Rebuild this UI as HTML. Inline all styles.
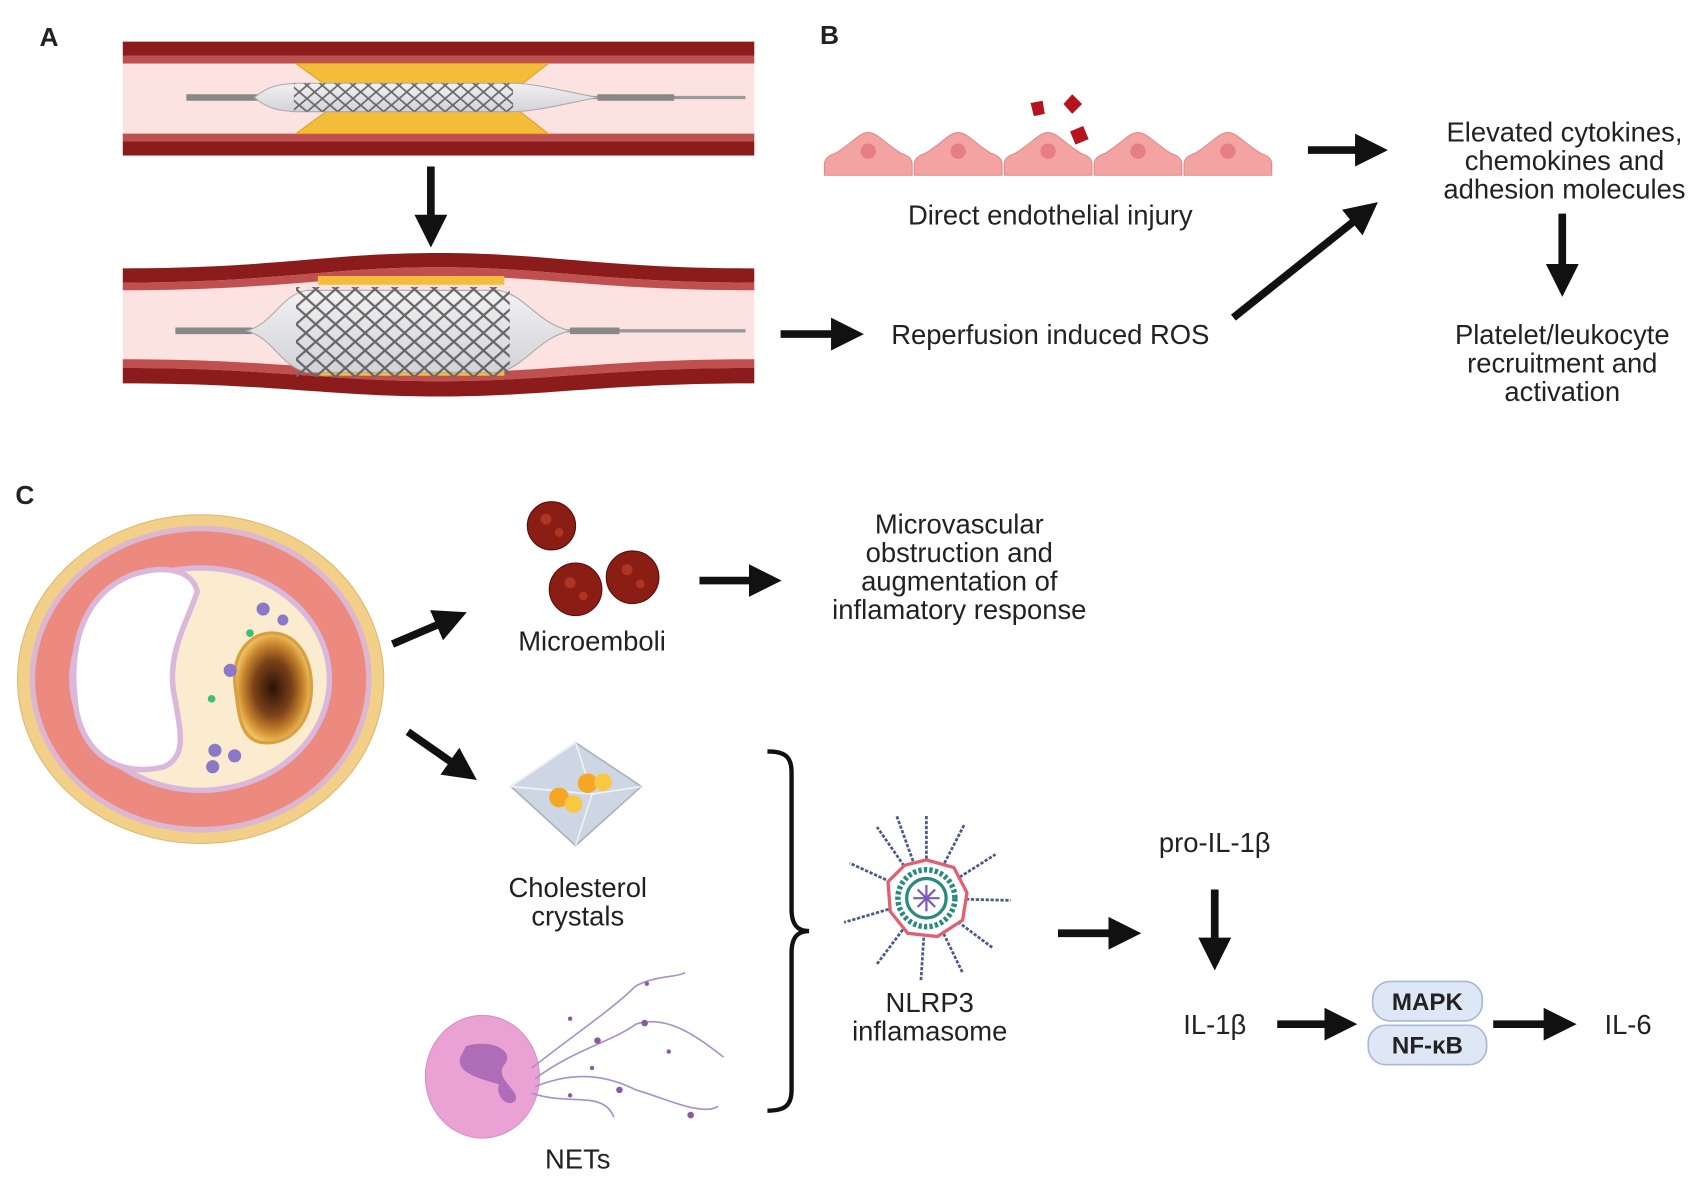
<!DOCTYPE html>
<html><head><meta charset="utf-8"><style>
html,body{margin:0;padding:0;background:#fff;}
svg{display:block;}
text{font-family:"Liberation Sans",sans-serif;fill:#222;}
</style></head><body>
<svg width="1707" height="1183" viewBox="0 0 1557 1080" preserveAspectRatio="none" xmlns="http://www.w3.org/2000/svg">
<defs>
<marker id="ah" markerUnits="userSpaceOnUse" markerWidth="30" markerHeight="30" refX="2" refY="15" orient="auto">
<path d="M0,0 L30,15 L0,30 Z" fill="#111"/>
</marker>
<pattern id="mesh" width="14" height="12" patternUnits="userSpaceOnUse">
<path d="M0,6 L7,0 L14,6 L7,12 Z" fill="none" stroke="#666" stroke-width="1.6"/>
</pattern>
<pattern id="mesh2" width="18" height="16" patternUnits="userSpaceOnUse">
<path d="M0,8 L9,0 L18,8 L9,16 Z" fill="none" stroke="#666" stroke-width="2"/>
</pattern>
<linearGradient id="bal" x1="0" y1="0" x2="0" y2="1"><stop offset="0" stop-color="#f2f2f4"/><stop offset="0.5" stop-color="#e2e2e6"/><stop offset="1" stop-color="#d2d2d8"/></linearGradient>
<radialGradient id="core" cx="0.5" cy="0.5" r="0.5"><stop offset="0" stop-color="#2a1208"/><stop offset="0.5" stop-color="#7a4218"/><stop offset="0.8" stop-color="#c9862e"/><stop offset="1" stop-color="#f0c060"/></radialGradient>
</defs>

<text x="36" y="42" font-size="24" font-weight="bold" fill="#111">A</text>
<text x="748" y="40" font-size="24" font-weight="bold" fill="#111">B</text>
<text x="14" y="460" font-size="24" font-weight="bold" fill="#111">C</text>

<rect x="112" y="38" width="576" height="104" fill="#fde2e2"/>
<rect x="112" y="38" width="576" height="13" fill="#8c1c1c"/>
<rect x="112" y="51" width="576" height="7" fill="#c05050"/>
<rect x="112" y="122" width="576" height="7" fill="#c05050"/>
<rect x="112" y="129" width="576" height="13" fill="#8c1c1c"/>
<path d="M270,58 L500,58 L472,80 L300,80 Z" fill="#f3bd3a" stroke="#e0a020"/>
<path d="M300,100 L472,100 L500,122 L270,122 Z" fill="#f3bd3a" stroke="#e0a020"/>
<line x1="170" y1="89" x2="680" y2="89" stroke="#999" stroke-width="3"/>
<line x1="170" y1="89" x2="235" y2="89" stroke="#888" stroke-width="6"/>
<line x1="545" y1="89" x2="615" y2="89" stroke="#888" stroke-width="6"/>
<path d="M232,89 C245,78 255,77 270,76 L470,76 C490,77 500,80 545,89 C500,98 490,101 470,102 L270,102 C255,101 245,100 232,89 Z" fill="url(#bal)" stroke="#aaa"/>
<rect x="268" y="76" width="200" height="26" fill="url(#mesh)"/>

<line x1="393" y1="152" x2="393" y2="198" stroke="#111" stroke-width="7" marker-end="url(#ah)"/>

<path d="M112,252 C250,252 300,238 400,238 C500,238 550,252 688,252 L688,340 C550,340 500,356 400,356 C300,356 250,340 112,340 Z" fill="#fde2e2"/>
<path d="M112,245 C250,245 300,231 400,231 C500,231 550,245 688,245 L688,258 C550,258 500,244 400,244 C300,244 250,258 112,258 Z" fill="#8c1c1c"/>
<path d="M112,258 C250,258 300,244 400,244 C500,244 550,258 688,258 L688,265 C550,265 500,252 400,252 C300,252 250,265 112,265 Z" fill="#c05050"/>
<path d="M112,328 C250,328 300,340 400,340 C500,340 550,328 688,328 L688,336 C550,336 500,348 400,348 C300,348 250,336 112,336 Z" fill="#c05050"/>
<path d="M112,336 C250,336 300,348 400,348 C500,348 550,336 688,336 L688,350 C550,350 500,362 400,362 C300,362 250,350 112,350 Z" fill="#8c1c1c"/>
<rect x="290" y="252" width="170" height="8" fill="#f3bd3a"/>
<rect x="290" y="336" width="170" height="7" fill="#f3bd3a"/>
<line x1="160" y1="302" x2="680" y2="302" stroke="#999" stroke-width="3"/>
<line x1="160" y1="302" x2="230" y2="302" stroke="#888" stroke-width="6"/>
<line x1="520" y1="302" x2="565" y2="302" stroke="#888" stroke-width="6"/>
<path d="M225,302 C250,295 255,270 280,265 L455,265 C480,270 490,295 520,302 C490,309 480,334 455,340 L280,340 C255,334 250,309 225,302 Z" fill="url(#bal)" stroke="#aaa"/>
<rect x="270" y="262" width="195" height="82" fill="url(#mesh2)"/>

<line x1="712" y1="305" x2="760" y2="305" stroke="#111" stroke-width="7" marker-end="url(#ah)"/>
<text x="958" y="314" font-size="25" text-anchor="middle">Reperfusion induced ROS</text>

<g fill="#f4a3a3" stroke="#e08a8a" stroke-width="1">
<path d="M752,160 L752,150 Q752,143 762,140 C778,130 784,121 792,121 C800,121 806,130 822,140 Q832,143 832,150 L832,160 Z"/>
<path d="M834,160 L834,150 Q834,143 844,140 C860,130 866,121 874,121 C882,121 888,130 904,140 Q914,143 914,150 L914,160 Z"/>
<path d="M916,160 L916,150 Q916,143 926,140 C942,130 948,121 956,121 C964,121 970,130 986,140 Q996,143 996,150 L996,160 Z"/>
<path d="M998,160 L998,150 Q998,143 1008,140 C1024,130 1030,121 1038,121 C1046,121 1052,130 1068,140 Q1078,143 1078,150 L1078,160 Z"/>
<path d="M1080,160 L1080,150 Q1080,143 1090,140 C1106,130 1112,121 1120,121 C1128,121 1134,130 1150,140 Q1160,143 1160,150 L1160,160 Z"/>
</g>
<g fill="#e57f85"><circle cx="792" cy="138" r="7"/><circle cx="874" cy="138" r="7"/><circle cx="956" cy="138" r="7"/><circle cx="1038" cy="138" r="7"/><circle cx="1120" cy="138" r="7"/></g>
<g fill="#b5141c">
<path d="M940,94 L951,92 L953,104 L943,106 Z"/>
<path d="M978,86 L987,95 L978,104 L970,95 Z"/>
<path d="M976,120 L988,115 L993,127 L981,132 Z"/>
</g>
<text x="958" y="205" font-size="25" text-anchor="middle">Direct endothelial injury</text>

<line x1="1193" y1="137" x2="1238" y2="137" stroke="#111" stroke-width="7" marker-end="url(#ah)"/>
<line x1="1125" y1="290" x2="1235" y2="202" stroke="#111" stroke-width="7" marker-end="url(#ah)"/>
<text font-size="25" text-anchor="middle"><tspan x="1427" y="129">Elevated cytokines,</tspan><tspan x="1427" y="155">chemokines and</tspan><tspan x="1427" y="181">adhesion molecules</tspan></text>
<line x1="1425" y1="195" x2="1425" y2="243" stroke="#111" stroke-width="7" marker-end="url(#ah)"/>
<text font-size="25" text-anchor="middle"><tspan x="1425" y="314">Platelet/leukocyte</tspan><tspan x="1425" y="340">recruitment and</tspan><tspan x="1425" y="366">activation</tspan></text>

<ellipse cx="183" cy="620" rx="167" ry="150" fill="#f2d08a" stroke="#e0b870"/>
<ellipse cx="183" cy="620" rx="156" ry="140" fill="#ddb7d0"/>
<ellipse cx="183" cy="620" rx="151" ry="135" fill="#ec8a80"/>
<ellipse cx="183" cy="620" rx="120" ry="104" fill="#d9b8dc"/>
<ellipse cx="183" cy="620" rx="115" ry="99" fill="#fbeccf"/>
<path d="M70,650 C62,600 70,545 120,525 C150,515 175,520 180,540 C170,570 150,600 160,640 C165,670 170,690 150,700 C110,710 78,690 70,650 Z" fill="#fff" stroke="#d9b8dc" stroke-width="5"/>
<path d="M215,630 C210,600 225,580 245,578 C270,576 285,600 284,630 C283,660 265,680 240,678 C220,676 218,655 215,630 Z" fill="url(#core)" stroke="#d8a040" stroke-width="3"/>
<g fill="#8a78c8"><circle cx="240" cy="556" r="6"/><circle cx="258" cy="566" r="5"/><circle cx="210" cy="612" r="6"/><circle cx="196" cy="685" r="6"/><circle cx="214" cy="690" r="6"/><circle cx="194" cy="700" r="6"/></g>
<g fill="#3cbf78"><circle cx="228" cy="578" r="3.5"/><circle cx="193" cy="638" r="3.5"/></g>

<line x1="358" y1="588" x2="400" y2="570" stroke="#111" stroke-width="7" marker-end="url(#ah)"/>
<line x1="372" y1="668" x2="412" y2="696" stroke="#111" stroke-width="7" marker-end="url(#ah)"/>

<g fill="#8a1e14" stroke="#5a0e08" stroke-width="1">
<circle cx="503" cy="480" r="22"/><circle cx="525" cy="538" r="24"/><circle cx="577" cy="527" r="24"/>
</g>
<g fill="#c0402a" opacity="0.7"><circle cx="498" cy="474" r="5"/><circle cx="510" cy="486" r="4"/><circle cx="520" cy="532" r="5"/><circle cx="532" cy="544" r="4"/><circle cx="572" cy="520" r="5"/><circle cx="584" cy="533" r="4"/></g>
<text x="540" y="594" font-size="25" text-anchor="middle">Microemboli</text>
<line x1="638" y1="530" x2="685" y2="530" stroke="#111" stroke-width="7" marker-end="url(#ah)"/>
<text font-size="25" text-anchor="middle"><tspan x="875" y="487">Microvascular</tspan><tspan x="875" y="513">obstruction and</tspan><tspan x="875" y="539">augmentation of</tspan><tspan x="875" y="565">inflamatory response</tspan></text>

<path d="M525,678 L585,718 L525,772 L466,718 Z" fill="#cdd6e2" stroke="#a8b2c0" stroke-width="1.5"/>
<path d="M525,678 L540,725 L585,718 M540,725 L525,772 M525,678 L466,718 L540,725" fill="none" stroke="#eef2f8" stroke-width="1.5"/>
<g fill="#f5a623"><circle cx="510" cy="728" r="9"/><circle cx="536" cy="715" r="9"/></g>
<g fill="#f8c840"><circle cx="523" cy="734" r="8"/><circle cx="550" cy="714" r="8"/></g>
<text font-size="25" text-anchor="middle"><tspan x="527" y="819">Cholesterol</tspan><tspan x="527" y="845">crystals</tspan></text>

<ellipse cx="440" cy="983" rx="52" ry="56" fill="#eaa2d4" stroke="#d890c4"/>
<path d="M425,955 C450,948 470,960 460,972 C450,985 475,995 470,1005 C462,1012 452,1000 455,990 C440,985 415,980 420,965 Z" fill="#a060b0" opacity="0.8"/>
<g fill="none" stroke="#a990c8" stroke-width="1.5">
<path d="M485,975 C530,940 560,920 580,900 C600,890 615,893 625,888"/>
<path d="M488,985 C520,960 560,950 580,935 C610,925 640,950 660,965"/>
<path d="M488,992 C530,975 560,985 580,995 C600,1000 640,1020 655,1010"/>
<path d="M485,998 C520,1010 550,995 560,1020"/>
</g>
<g fill="#8a5aa0"><circle cx="545" cy="950" r="3"/><circle cx="588" cy="934" r="3"/><circle cx="565" cy="995" r="3"/><circle cx="630" cy="1018" r="3"/><circle cx="590" cy="898" r="2"/><circle cx="520" cy="930" r="2"/><circle cx="540" cy="975" r="2"/><circle cx="610" cy="960" r="2"/><circle cx="520" cy="1000" r="2"/></g>
<text x="527" y="1067" font-size="25" text-anchor="middle">NETs</text>

<path d="M700,686 C715,686 722,690 722,705 L722,830 C722,845 728,850 738,850 C728,850 722,855 722,870 L722,995 C722,1010 715,1014 700,1014" fill="none" stroke="#111" stroke-width="4"/>

<g stroke="#4a5a8a" stroke-width="2.5" stroke-dasharray="3,1.5">
<line x1="845" y1="820" x2="845" y2="745"/><line x1="845" y1="820" x2="880" y2="752"/><line x1="845" y1="820" x2="908" y2="780"/><line x1="845" y1="820" x2="922" y2="822"/><line x1="845" y1="820" x2="905" y2="865"/><line x1="845" y1="820" x2="878" y2="888"/><line x1="845" y1="820" x2="840" y2="895"/><line x1="845" y1="820" x2="800" y2="880"/><line x1="845" y1="820" x2="770" y2="842"/><line x1="845" y1="820" x2="775" y2="788"/><line x1="845" y1="820" x2="800" y2="755"/><line x1="845" y1="820" x2="818" y2="745"/>
</g>
<path d="M845,785 L870,792 L882,815 L878,840 L855,855 L828,852 L812,832 L810,805 L825,790 Z" fill="#fff" stroke="#e06070" stroke-width="3"/>
<circle cx="845" cy="820" r="26" fill="#fff" stroke="#2a8a80" stroke-width="5" stroke-dasharray="3,2"/>
<circle cx="845" cy="820" r="18" fill="#fff" stroke="#2a8a80" stroke-width="3"/>
<g stroke="#7a5ab8" stroke-width="2"><line x1="833" y1="820" x2="857" y2="820"/><line x1="845" y1="808" x2="845" y2="832"/><line x1="837" y1="812" x2="853" y2="828"/><line x1="853" y1="812" x2="837" y2="828"/></g>
<text font-size="25" text-anchor="middle"><tspan x="848" y="924">NLRP3</tspan><tspan x="848" y="950">inflamasome</tspan></text>

<line x1="965" y1="852" x2="1013" y2="852" stroke="#111" stroke-width="7" marker-end="url(#ah)"/>
<text x="1108" y="778" font-size="25" text-anchor="middle">pro-IL-1β</text>
<line x1="1108" y1="812" x2="1108" y2="858" stroke="#111" stroke-width="7" marker-end="url(#ah)"/>
<text x="1108" y="944" font-size="25" text-anchor="middle">IL-1β</text>
<line x1="1165" y1="935" x2="1210" y2="935" stroke="#111" stroke-width="7" marker-end="url(#ah)"/>
<rect x="1252" y="896" width="100" height="36" rx="16" fill="#dde7f5" stroke="#a8b8d8" stroke-width="1.5"/>
<rect x="1248" y="936" width="108" height="36" rx="16" fill="#dde7f5" stroke="#a8b8d8" stroke-width="1.5"/>
<text x="1302" y="922" font-size="22" font-weight="bold" text-anchor="middle" fill="#111">MAPK</text>
<text x="1302" y="962" font-size="22" font-weight="bold" text-anchor="middle" fill="#111">NF-κB</text>
<line x1="1362" y1="935" x2="1410" y2="935" stroke="#111" stroke-width="7" marker-end="url(#ah)"/>
<text x="1485" y="944" font-size="25" text-anchor="middle">IL-6</text>
</svg>
</body></html>
